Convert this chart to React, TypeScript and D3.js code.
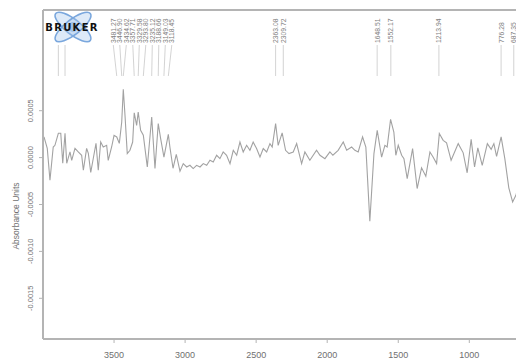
import * as d3 from "d3";

// spectrum (wavenumber cm-1, absorbance units)
const wavenumber = [
  3993, 3970, 3951, 3928, 3916, 3892, 3875, 3861, 3845, 3833, 3810, 3798, 3775, 3752, 3728, 3716,
  3693, 3681, 3664, 3646, 3627, 3611, 3594, 3576, 3552, 3541, 3517, 3500, 3481, 3463, 3446, 3435,
  3423, 3407, 3388, 3369, 3358, 3341, 3330, 3313, 3294, 3266, 3235, 3212, 3189, 3172, 3149, 3118,
  3107, 3085, 3062, 3036, 3013, 2989, 2966, 2943, 2919, 2895, 2872, 2848, 2825, 2802, 2778, 2755,
  2732, 2708, 2684, 2661, 2637, 2614, 2591, 2567, 2544, 2521, 2497, 2473, 2450, 2426, 2403, 2387,
  2363, 2345, 2317, 2293, 2269, 2239, 2215, 2180, 2157, 2122, 2075, 2051, 2016, 1981, 1960, 1923,
  1887, 1863, 1828, 1805, 1782, 1751, 1728, 1700, 1671, 1648, 1617, 1594, 1578, 1554, 1531, 1517,
  1500, 1476, 1460, 1437, 1399, 1367, 1336, 1306, 1277, 1254, 1230, 1211, 1184, 1160, 1128, 1078,
  1043, 1015, 987, 963, 940, 909, 873, 846, 827, 808, 776, 750, 722, 695, 672, 644,
];
const absorbance = [
  0.00022, 0.000099, -0.000242, 0.000113, 0.000131, 0.000259, 0.000259, -0.000061, 0.000259, -0.000061,
  0.00006, -0.000029, 0.000099, 0.00006, 0.000025, -0.000135, 0.000099, 0.000046, -0.000157, -0.000007,
  0.000152, -0.000135, 0.000166, 0.000113, 0.000131, -0.000029, 0.000113, 0.000238, 0.00022, 0.000152,
  0.00038, 0.000728, 0.000451, 0.000043, 0.000078, 0.000166, 0.000478, 0.000344, 0.000486, 0.000291,
  0.000238, -0.0001, 0.000433, -0.000117, 0.000362, 0.000203, 0.000006, 0.000248, 0.000113, -0.000114,
  0.000035, -0.000146, -0.000064, -0.0001, -0.000082, -0.000117, -0.000082, -0.0001, -0.000064, -0.000082,
  -0.000029, -0.000047, 0.000025, -0.000011, 0.00006, 0.000025, -0.000064, 0.000078, 0.000025, 0.000166,
  0.00006, 0.000131, 0.000078, 0.000166, 0.000096, 0.000006, 0.000096, 0.00006, 0.000149, 0.000113,
  0.000362, 0.000131, 0.000264, 0.000078, 0.000043, 0.00006, 0.000149, -0.000064, 0.00006, -0.000029,
  0.000078, 0.000025, -0.000011, 0.00006, 0.000025, 0.000078, 0.000166, 0.000078, 0.000113, 0.000078,
  0.00006, 0.00022, 0.000113, -0.000679, 0.000043, 0.000291, 0.000006, 0.000131, 0.000113, 0.000408,
  0.000273, 0.000025, 0.000131, 0.000025, -0.000011, -0.000224, 0.000096, -0.00033, -0.000109, -0.000199,
  0.00006, 0.000003, -0.000064, 0.000256, 0.000184, 0.000158, -0.000029, 0.000149, 0.000051, -0.000162,
  0.000195, -0.0001, 0.000104, -0.000082, 0.000149, 0.000088, 0.000149, 0.000014, 0.00022, -0.000011,
  -0.000322, -0.000473, -0.000402, -0.000242,
];

// picked peaks: left cluster is fanned out, the rest sit over their peak
const clusterPeaks = [3481, 3446, 3435, 3358, 3330, 3294, 3235, 3189, 3149, 3118];
const clusterLabels = ["3481.27", "3446.90", "3434.62", "3357.71", "3329.58", "3293.80", "3235.12", "3188.66", "3149.03", "3118.45"];
const singlePeaks = [3892, 3845, 2363, 2309, 1648.51, 1552.17, 1213.94, 776.28, 687];
const singleLabels = ["3892.40", "3845.17", "2363.08", "2309.72", "1648.51", "1552.17", "1213.94", "776.28", "687.35"];

const xTicks = [3500, 3000, 2500, 2000, 1500, 1000];
const yTicks = [0.0005, 0, -0.0005, -0.001, -0.0015];
const yTickLabels = ["0.0005", "0.0000", "-0.0005", "-0.0010", "-0.0015"];

const W = 516;
const H = 360;
const left = 43;
const top = 10;
const bottom = 339;
const axisCol = "#b4b4b4";
const textCol = "#707070";
const font = "Liberation Sans, Arial, sans-serif";

export default function App() {
  const x = d3.scaleLinear().domain([4000, 1000]).range([43, 469.3]);
  const y = d3.scaleLinear().domain([0.0005, -0.0015]).range([110.7, 298.3]);

  const pts = wavenumber.map((w, i) => [w, absorbance[i]] as [number, number]);
  const line = d3
    .line<[number, number]>()
    .x((d) => x(d[0]))
    .y((d) => y(d[1]))
    .curve(d3.curveLinear);

  // spread the cluster labels evenly above their peaks
  const cx = clusterPeaks.map((p) => x(p));
  const mid = (d3.min(cx)! + d3.max(cx)!) / 2;
  const step = 6.5;
  const labelX = cx.map((_, i) => mid + (i - (cx.length - 1) / 2) * step);

  const labelBase = 43;
  const lineTop = 45;
  const lineBot = 76;

  return (
    <div style={{ position: "fixed", left: 0, top: 0 }}>
      <svg width={W} height={H} style={{ display: "block", background: "#fff" }}>
        <defs>
          <clipPath id="plot">
            <rect x={left} y={top} width={W - left} height={bottom - top} />
          </clipPath>
        </defs>

        {/* peak markers */}
        {clusterPeaks.map((p, i) => (
          <g key={"c" + i}>
            <line x1={labelX[i]} y1={lineTop} x2={x(p)} y2={lineBot} stroke="#c8c8c8" strokeWidth={0.8} />
            <text
              transform={`translate(${labelX[i] + 2.5},${labelBase}) rotate(-90)`}
              fontSize={6.8}
              fontFamily={font}
              fill="#808080"
            >
              {clusterLabels[i]}
            </text>
          </g>
        ))}
        {singlePeaks.map((p, i) => (
          <g key={"s" + i}>
            <line x1={x(p)} y1={lineTop} x2={x(p)} y2={lineBot} stroke="#c8c8c8" strokeWidth={0.8} />
            <text
              transform={`translate(${x(p) + 2.5},${labelBase}) rotate(-90)`}
              fontSize={6.8}
              fontFamily={font}
              fill="#808080"
            >
              {singleLabels[i]}
            </text>
          </g>
        ))}

        {/* logo */}
        <g transform="translate(73,27)">
          <rect x={-29} y={-16} width={60} height={33} fill="#fff" />
          <ellipse rx={22} ry={7.5} transform="rotate(38)" fill="rgba(160,195,235,0.35)" stroke="#7aa7dd" strokeWidth={1.6} />
          <ellipse rx={22} ry={7.5} transform="rotate(-38)" fill="rgba(160,195,235,0.35)" stroke="#7aa7dd" strokeWidth={1.6} />
          <circle r={5} fill="rgba(120,165,220,0.5)" />
          <text
            x={-1}
            y={4}
            textAnchor="middle"
            fontSize={10}
            fontWeight={900}
            fontFamily="DejaVu Sans, sans-serif"
            letterSpacing={1.3}
            fill="#111"
          >
            BRUKER
          </text>
        </g>

        {/* spectrum */}
        <path d={line(pts) ?? ""} fill="none" stroke="#a2a2a2" strokeWidth={1.1} clipPath="url(#plot)" />

        {/* frame */}
        <line x1={left} y1={top} x2={W} y2={top} stroke={axisCol} strokeWidth={2} />
        <line x1={left} y1={top} x2={left} y2={bottom} stroke={axisCol} strokeWidth={2} />
        <line x1={left} y1={bottom} x2={W} y2={bottom} stroke={axisCol} strokeWidth={2} />

        {/* x axis */}
        {xTicks.map((t) => (
          <g key={t}>
            <line x1={x(t)} y1={bottom} x2={x(t)} y2={bottom + 4} stroke={axisCol} strokeWidth={1} />
            <text x={x(t)} y={bottom + 19} textAnchor="middle" fontSize={9} fontFamily={font} fill={textCol}>
              {t}
            </text>
          </g>
        ))}

        {/* y axis */}
        {yTicks.map((t, i) => (
          <g key={t}>
            <line x1={left - 4} y1={y(t)} x2={left} y2={y(t)} stroke={axisCol} strokeWidth={1} />
            <text
              transform={`translate(${left - 10},${y(t)}) rotate(-90)`}
              textAnchor="middle"
              fontSize={7.5}
              fontFamily={font}
              fill={textCol}
            >
              {yTickLabels[i]}
            </text>
          </g>
        ))}
        <text
          transform={`translate(19,216) rotate(-90)`}
          textAnchor="middle"
          fontSize={8.5}
          fontFamily={font}
          fill={textCol}
        >
          Absorbance Units
        </text>
      </svg>
    </div>
  );
}
